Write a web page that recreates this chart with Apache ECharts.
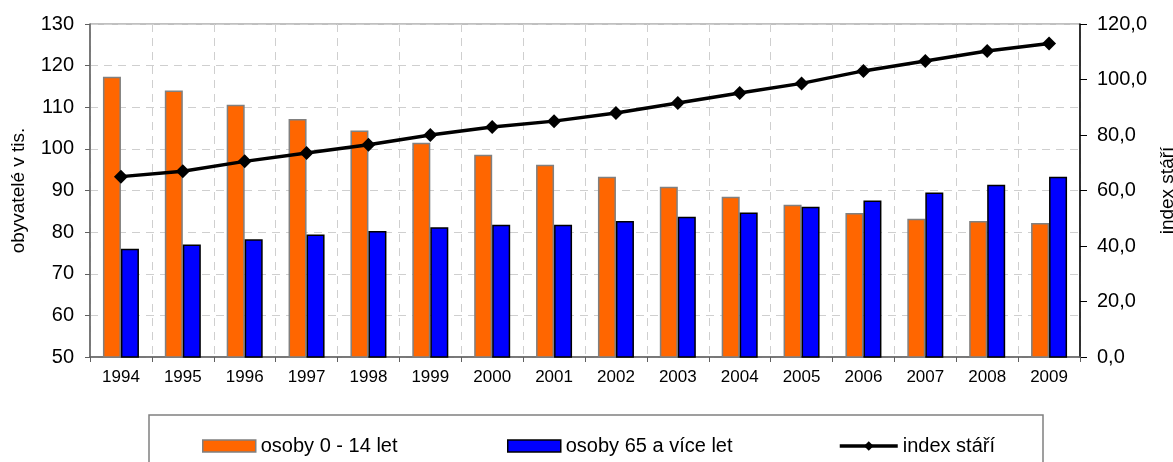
<!DOCTYPE html>
<html>
<head>
<meta charset="utf-8">
<script src="https://cdn.jsdelivr.net/npm/echarts@6/dist/echarts.min.js"></script>
<style>
html,body{margin:0;padding:0;background:#fff;}
#c{width:1173px;height:462px;}
</style>
</head>
<body>
<div id="c"></div>
<script>
const years = ['1994','1995','1996','1997','1998','1999','2000','2001','2002','2003','2004','2005','2006','2007','2008','2009'];
const kids = [117.3,114.0,110.6,107.2,104.4,101.5,98.6,96.2,93.3,90.9,88.5,86.6,84.6,83.2,82.7,82.2];
const seniors = [76.0,77.0,78.3,79.4,80.3,81.2,81.8,81.8,82.7,83.7,84.7,86.1,87.6,89.5,91.4,93.3];
const ageIndex = [65.0,66.9,70.5,73.5,76.5,80.0,82.9,85.0,87.9,91.5,95.1,98.6,103.1,106.7,110.3,113.0];
const seriesNames = ['osoby 0 - 14 let','osoby 65 a více let','index stáří'];
const leftAxisName = 'obyvatelé v tis.';
const rightAxisName = 'index stáří';

const FONT = "'Liberation Sans', Arial, sans-serif";
const chart = echarts.init(document.getElementById('c'), null, {renderer:'canvas'});
const legendText = {fontFamily: FONT, fontSize: 20, color: '#000'};
const legendBase = {itemHeight: 12, textStyle: legendText, itemGap: 0, top: 431,
  lineStyle: {width: 3.5, color: '#000'}, itemStyle: {borderWidth: 1.5}};
chart.setOption({
  animation: false,
  backgroundColor: '#fff',
  textStyle: {fontFamily: FONT, color: '#000'},
  grid: {left: 90, right: 93, top: 24, bottom: 105, show: true, borderColor: '#808080', borderWidth: 1,
    containLabel: false, outerBoundsMode: 'none'},
  graphic: [{
    type: 'rect', shape: {x: 149, y: 415, width: 894, height: 70},
    style: {fill: 'none', stroke: '#808080', lineWidth: 1.5}, z: 0
  }],
  legend: [
    Object.assign({}, legendBase, {data: [{name: seriesNames[0], icon: 'rect'}], left: 197, itemWidth: 53}),
    Object.assign({}, legendBase, {data: [{name: seriesNames[1], icon: 'rect'}], left: 502, itemWidth: 53}),
    Object.assign({}, legendBase, {data: [{name: seriesNames[2]}], left: 833, itemWidth: 58})
  ],
  xAxis: {
    type: 'category', data: years, boundaryGap: true,
    axisLine: {lineStyle: {color: '#606060', width: 1.5}},
    axisTick: {show: true, length: 5, lineStyle: {color: '#606060'}},
    axisLabel: {fontSize: 17, color: '#000', margin: 12, fontFamily: FONT},
    splitLine: {show: true, lineStyle: {color: '#cfcfcf', type: [8, 6], width: 1}}
  },
  yAxis: [{
    type: 'value', min: 50, max: 130, interval: 10, position: 'left',
    name: leftAxisName, nameLocation: 'middle', nameGap: 62, nameRotate: 90,
    nameTextStyle: {fontSize: 19, color: '#000', fontFamily: FONT},
    axisLine: {show: true, lineStyle: {color: '#606060', width: 1.5}},
    axisTick: {show: true, length: 5, lineStyle: {color: '#606060'}},
    axisLabel: {fontSize: 20, color: '#000', margin: 16, fontFamily: FONT},
    splitLine: {show: true, lineStyle: {color: '#cfcfcf', type: [8, 6], width: 1}}
  }, {
    type: 'value', min: 0, max: 120, interval: 20, position: 'right',
    name: rightAxisName, nameLocation: 'middle', nameGap: 74, nameRotate: 90,
    nameTextStyle: {fontSize: 19, color: '#000', fontFamily: FONT},
    axisLine: {show: true, lineStyle: {color: '#000', width: 1.5}},
    axisTick: {show: true, length: 7, lineStyle: {color: '#000'}},
    axisLabel: {fontSize: 20, color: '#000', margin: 17, fontFamily: FONT,
      formatter: v => v.toFixed(1).replace('.', ',')},
    splitLine: {show: false}
  }],
  series: [{
    name: seriesNames[0], type: 'bar', data: kids, yAxisIndex: 0,
    barWidth: 18, barGap: '0%',
    itemStyle: {color: '#FF6600', borderColor: '#808080', borderWidth: 1.5}
  }, {
    name: seriesNames[1], type: 'bar', data: seniors, yAxisIndex: 0,
    barWidth: 18, barGap: '0%',
    itemStyle: {color: '#0000FF', borderColor: '#000', borderWidth: 1.5}
  }, {
    name: seriesNames[2], type: 'line', data: ageIndex, yAxisIndex: 1,
    symbol: 'diamond', symbolSize: 14, z: 5,
    lineStyle: {color: '#000', width: 3.5},
    itemStyle: {color: '#000'}
  }]
});
</script>
</body>
</html>
